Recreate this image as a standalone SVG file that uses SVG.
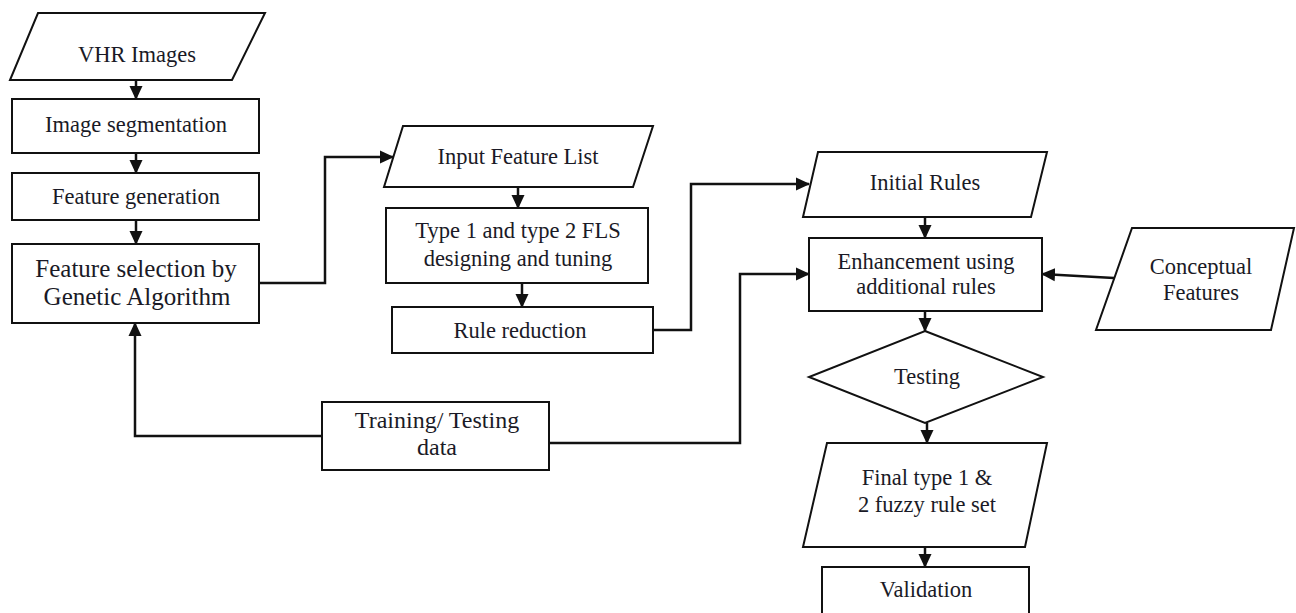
<svg xmlns="http://www.w3.org/2000/svg" width="1296" height="613" viewBox="0 0 1296 613">
<style>
.shape{fill:#fff;stroke:#111;stroke-width:2}
.con{fill:none;stroke:#111;stroke-width:2.5;marker-end:url(#ah)}
text{font-family:"Liberation Serif","Times New Roman",serif;font-size:22.5px;fill:#1a1a26;text-anchor:middle}
.big{font-size:25px}
.tt{font-size:24px}
</style>
<defs>
<marker id="ah" viewBox="0 0 14 14" refX="13" refY="7" markerWidth="14" markerHeight="14" markerUnits="userSpaceOnUse" orient="auto">
<path d="M0,0.5 L14,7 L0,13.5 Z" fill="#111"/>
</marker>
</defs>
<rect width="1296" height="613" fill="#fff"/>
<g id="connectors">
<path class="con" d="M136,80 V99"/>
<path class="con" d="M136,153 V173"/>
<path class="con" d="M136,220 V244"/>
<path class="con" d="M259,283 H325 V157 H393"/>
<path class="con" d="M518,187 V208"/>
<path class="con" d="M522,283 V307"/>
<path class="con" d="M653,330 H691 V184 H809"/>
<path class="con" d="M549,443 H740 V274 H809"/>
<path class="con" d="M322,436 H135 V323"/>
<path class="con" d="M1114,278 L1042,274"/>
<path class="con" d="M925,217 V238"/>
<path class="con" d="M925,311 V331"/>
<path class="con" d="M927,423 V443"/>
<path class="con" d="M925,547 V567"/>
</g>
<g id="vhr-images">
<polygon class="shape" points="38,13 265,13 232,80 10,80"/>
<text x="137" y="62">VHR Images</text>
</g>
<g id="image-segmentation">
<rect class="shape" x="12" y="99" width="247" height="54"/>
<text x="136" y="132">Image segmentation</text>
</g>
<g id="feature-generation">
<rect class="shape" x="12" y="173" width="247" height="47"/>
<text x="136" y="204">Feature generation</text>
</g>
<g id="feature-selection">
<rect class="shape" x="12" y="244" width="247" height="79"/>
<text class="big" x="136" y="277">Feature selection by</text>
<text class="big" x="137" y="305">Genetic Algorithm</text>
</g>
<g id="input-feature-list">
<polygon class="shape" points="403,126 653,126 633,187 384,187"/>
<text x="518" y="164">Input Feature List</text>
</g>
<g id="fls-design">
<rect class="shape" x="386" y="208" width="262" height="75"/>
<text x="518" y="238">Type 1 and type 2 FLS</text>
<text x="518" y="266">designing and tuning</text>
</g>
<g id="rule-reduction">
<rect class="shape" x="392" y="307" width="261" height="46"/>
<text x="520" y="338">Rule reduction</text>
</g>
<g id="training-testing-data">
<rect class="shape" x="322" y="402" width="227" height="68"/>
<text class="tt" x="437" y="428">Training/ Testing</text>
<text class="tt" x="437" y="455">data</text>
</g>
<g id="initial-rules">
<polygon class="shape" points="818,152 1047,152 1031,217 803,217"/>
<text x="925" y="190">Initial Rules</text>
</g>
<g id="enhancement">
<rect class="shape" x="809" y="238" width="233" height="73"/>
<text x="926" y="269">Enhancement using</text>
<text x="926" y="294">additional rules</text>
</g>
<g id="conceptual-features">
<polygon class="shape" points="1132,228 1294,228 1271,330 1096,330"/>
<text x="1201" y="274">Conceptual</text>
<text x="1201" y="300">Features</text>
</g>
<g id="testing">
<polygon class="shape" points="925,331 1043,377 925,423 809,377"/>
<text x="927" y="384">Testing</text>
</g>
<g id="final-rule-set">
<polygon class="shape" points="827,443 1047,443 1025,547 803,547"/>
<text x="927" y="485">Final type 1 &amp;</text>
<text x="927" y="512">2 fuzzy rule set</text>
</g>
<g id="validation">
<rect class="shape" x="822" y="567" width="207" height="60"/>
<text x="926" y="597">Validation</text>
</g>
</svg>
